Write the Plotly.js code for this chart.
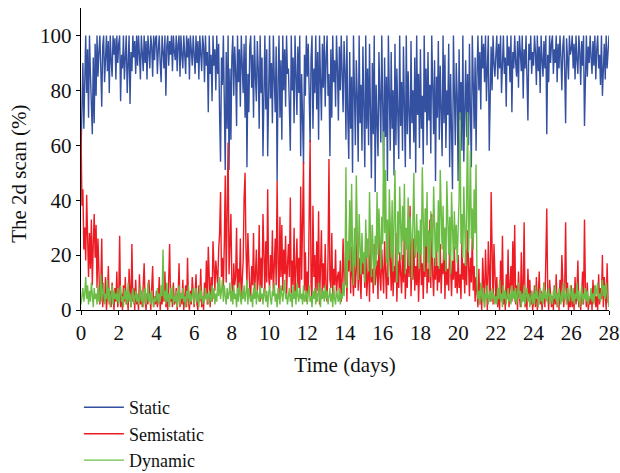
<!DOCTYPE html>
<html>
<head>
<meta charset="utf-8">
<script src="https://cdn.plot.ly/plotly-3.0.1.min.js"></script>
<style>html,body{margin:0;padding:0;background:#fff}#chart{width:620px;height:473px}</style>
</head>
<body>
<div id="chart"></div>
<script>
// sampling interval (days) of the recorded series
const sampleStepDays = 0.05;
const xTickLabels = ["0","2","4","6","8","10","12","14","16","18","20","22","24","26","28"];
const yTickLabels = ["0","20","40","60","80","100"];
const seriesNames = ["Static", "Semistatic", "Dynamic"];

// Static share (%), 20 samples per day
const staticPct = [
57,72,90,66,84,100,79,95,70,100,86,74,64,92,68,97,78,100,85,94,
100,88,74,96,100,83,92,100,87,98,79,100,91,85,100,93,99,84,100,90,
97,100,76,93,88,100,84,96,100,79,91,100,75,94,87,100,92,98,86,100,
89,100,93,84,100,95,87,100,90,98,84,100,93,88,100,96,85,100,91,99,
100,86,95,100,90,83,100,94,88,100,78,96,100,89,98,93,100,87,100,94,
91,100,87,97,100,85,100,93,88,100,95,86,100,92,99,84,100,95,89,100,
95,86,100,90,98,84,100,92,87,100,96,83,100,89,94,72,100,86,93,76,
100,89,95,80,100,86,97,71,54,92,82,100,75,51,94,66,100,51,88,62,
92,100,78,96,87,67,100,83,95,74,100,88,79,97,70,100,52,86,72,96,
100,81,93,70,100,85,76,98,88,66,100,79,92,56,84,100,73,95,56,88,
100,77,90,68,100,84,72,96,47,83,100,70,91,62,100,80,95,74,100,86,
88,74,58,100,80,92,68,100,84,71,96,79,100,56,86,64,53,93,78,100,
85,97,70,61,92,100,66,88,79,100,73,94,62,100,84,69,97,81,100,74,
92,100,78,86,56,95,70,100,83,91,74,100,88,69,96,80,100,86,72,98,
88,62,100,70,55,94,66,85,50,100,72,60,91,78,54,100,68,82,58,96,
74,52,100,66,88,60,97,71,48,90,64,100,43,82,69,56,94,75,61,100,
70,50,92,63,85,47,100,72,58,94,66,80,49,97,60,88,73,55,100,67,
83,58,96,70,52,100,64,87,74,55,98,68,80,61,92,50,100,71,86,59,
95,66,78,53,100,72,88,60,94,69,82,57,100,75,64,91,47,85,70,98,
62,89,74,56,100,68,93,59,80,71,97,52,86,65,44,100,73,60,90,78,
47,95,69,83,58,100,54,76,91,63,86,60,97,72,52,100,81,66,92,58,
86,100,80,94,73,100,88,97,83,100,76,91,100,58,87,96,80,100,90,85,
93,100,84,97,88,100,79,95,100,86,92,74,100,89,96,83,100,72,94,88,
100,90,85,98,81,100,93,87,100,77,95,88,100,84,69,97,91,100,86,94,
89,100,94,82,100,87,96,79,100,91,85,98,88,100,64,93,83,100,90,97,
100,86,95,90,100,83,97,88,100,92,80,96,100,87,68,99,91,84,100,93,
95,100,88,97,84,100,91,86,100,94,82,98,89,100,67,93,100,85,96,90,
100,92,86,98,89,100,84,95,100,88,93,82,100,78,86,97,84,100,88,95,
100];

// Semistatic share (%)
const semistaticPct = [
66,38,44,22,30,18,42,25,12,28,15,33,9,24,35,19,31,8,26,14,
2,9,26,1,6,3,12,0,5,16,2,7,1,10,4,0,8,3,14,1,
4,27,1,6,0,9,3,12,2,5,0,15,7,1,24,3,8,0,11,2,
5,0,13,2,7,1,9,17,3,0,6,2,11,4,0,8,16,1,5,2,
7,1,4,12,0,6,2,9,3,14,1,5,0,11,24,3,7,1,10,2,
3,8,0,5,17,1,6,2,11,0,4,9,1,19,3,0,7,2,12,4,
1,6,13,2,0,9,3,15,1,5,0,10,4,18,2,23,6,1,12,3,
25,11,7,18,14,9,22,28,43,12,19,8,24,49,10,33,61,13,21,35,
10,4,17,9,12,30,6,15,8,26,3,11,18,41,50,22,9,28,14,7,
5,16,9,28,4,13,22,7,11,31,3,19,8,35,14,6,25,10,44,12,
8,20,11,29,6,15,26,9,47,17,4,34,12,31,7,22,13,27,5,16,
24,12,41,6,18,9,30,4,15,26,8,19,5,45,11,33,54,7,21,3,
14,6,27,62,9,4,38,12,20,3,25,7,36,2,15,29,5,17,8,24,
6,3,19,55,11,8,28,4,15,9,22,5,12,14,7,18,3,11,26,10,
9,26,3,21,14,33,6,23,12,5,18,8,15,30,7,19,11,4,24,13,
17,8,28,5,11,20,3,31,10,15,6,24,9,13,18,4,27,12,7,22,
14,6,25,11,4,19,9,31,13,7,22,5,16,10,28,3,18,8,21,12,
6,20,10,29,4,15,8,24,12,38,5,18,11,26,7,16,9,23,3,14,
27,9,17,4,21,12,37,6,15,10,33,8,35,13,5,19,11,25,7,16,
10,24,6,17,13,29,4,21,9,15,7,26,12,5,18,11,23,8,14,6,
20,8,13,4,25,11,17,6,22,9,29,14,5,19,10,27,7,16,3,12,
4,1,15,2,9,0,19,6,1,22,11,0,25,14,3,43,16,2,24,9,
3,12,1,8,0,18,5,27,2,7,0,13,4,22,1,9,16,3,25,6,
31,2,9,0,14,5,1,21,3,8,32,1,6,0,15,4,11,2,7,0,
3,9,1,12,0,5,14,2,7,0,4,10,1,17,37,6,0,11,3,1,
5,0,9,2,13,1,6,0,11,3,20,7,1,8,32,2,10,0,4,1,
9,1,5,0,12,2,7,18,1,4,0,6,14,2,33,8,1,10,0,4,
2,7,0,11,3,9,1,5,0,13,2,8,4,20,1,12,6,0,17,3,
2];

// Dynamic share (%)
const dynamicPct = [
2,5,8,3,6,12,4,9,2,7,3,10,5,1,8,4,6,2,9,3,
5,13,3,7,10,2,6,4,11,3,8,1,5,9,2,7,4,6,3,8,
2,6,9,3,5,1,8,4,7,2,10,3,6,1,5,8,2,4,7,3,
6,2,4,9,3,7,1,5,8,2,4,10,3,6,2,7,4,1,5,3,
4,8,2,6,3,9,5,22,4,7,2,10,3,6,1,8,4,9,2,5,
3,7,1,5,9,2,6,4,8,3,5,1,7,4,9,2,6,3,5,8,
2,5,8,3,6,1,9,4,7,2,5,3,8,4,6,2,7,5,3,9,
4,8,2,6,3,10,5,12,4,7,11,3,9,5,2,8,4,6,10,3,
7,2,9,4,6,1,8,3,10,5,2,7,4,9,3,6,11,2,8,5,
3,6,1,8,4,10,2,7,5,3,9,4,6,2,8,5,3,7,1,6,
9,4,2,7,5,10,3,6,1,8,4,2,9,5,3,7,11,4,6,2,
5,8,3,6,1,9,4,7,2,10,5,3,8,4,6,2,9,3,5,7,
2,6,9,3,5,1,7,4,8,2,6,3,10,5,1,8,4,7,3,9,
4,7,2,5,8,3,6,1,9,4,2,7,5,3,8,2,6,4,10,5,
12,52,8,25,18,40,14,46,22,9,30,16,49,20,11,35,24,13,28,17,
21,10,33,19,26,14,43,23,12,31,18,9,27,16,43,20,37,25,15,34,
24,65,28,51,17,33,12,44,26,19,40,14,31,51,23,10,36,20,45,27,
18,38,25,46,13,30,22,41,16,34,28,11,39,50,24,19,35,21,29,15,
33,20,52,26,14,37,23,43,17,29,12,36,24,19,45,27,16,32,21,40,
15,51,28,22,38,18,30,14,47,25,20,34,13,43,26,18,36,22,31,17,
29,40,72,24,35,19,45,27,16,38,72,21,33,58,26,37,22,44,28,53,
9,4,7,2,10,5,3,8,1,6,4,9,2,5,7,3,8,4,6,2,
5,2,8,4,11,3,6,1,9,4,7,2,5,8,3,6,2,9,4,7,
3,8,2,5,10,4,7,1,6,3,9,2,5,8,3,6,1,4,7,2,
6,2,9,4,7,1,5,8,3,6,2,10,4,7,3,5,8,2,6,4,
2,7,4,9,3,6,1,8,5,2,7,3,10,4,6,2,8,5,3,9,
5,3,8,2,6,4,10,3,7,1,5,9,2,6,4,8,3,7,2,5,
4,8,3,6,2,9,5,7,10,4,6,3,8,11,5,9,4,10,6,2,
1];

const timeDays = staticPct.map((_, i) => i * sampleStepDays);
const FONT = "'Liberation Serif', 'DejaVu Serif', serif";

const traces = [
  {x: timeDays, y: staticPct, name: seriesNames[0], type: "scatter", mode: "lines",
   line: {color: "#3450a0", width: 1.4}},
  {x: timeDays, y: semistaticPct, name: seriesNames[1], type: "scatter", mode: "lines",
   line: {color: "#ed1c24", width: 1.4}},
  {x: timeDays, y: dynamicPct, name: seriesNames[2], type: "scatter", mode: "lines",
   line: {color: "#6cbd45", width: 1.4}}
];

const layout = {
  width: 620, height: 473,
  margin: {l: 81, r: 11, t: 8, b: 163, autoexpand: false},
  paper_bgcolor: "#fff", plot_bgcolor: "#fff",
  font: {family: FONT, size: 18, color: "#111"},
  showlegend: true,
  legend: {x: -0.004, xanchor: "left", y: -0.262, yanchor: "top",
           itemwidth: 40,
           font: {family: FONT, size: 18, color: "#111"}, bgcolor: "rgba(0,0,0,0)"},
  xaxis: {
    range: [0, 28], tickmode: "array",
    tickvals: xTickLabels.map(Number), ticktext: xTickLabels,
    showgrid: false, zeroline: false, showline: true, linecolor: "#000", linewidth: 1.2,
    ticks: "outside", ticklen: 4, tickcolor: "#000", tickwidth: 1,
    tickfont: {family: FONT, size: 21, color: "#111"},
    title: {text: "Time (days)", font: {family: FONT, size: 21, color: "#111"}, standoff: 12}
  },
  yaxis: {
    range: [0, 110], tickmode: "array",
    tickvals: yTickLabels.map(Number), ticktext: yTickLabels,
    showgrid: false, zeroline: false, showline: true, linecolor: "#000", linewidth: 1.2,
    ticks: "outside", ticklen: 4, tickcolor: "#000", tickwidth: 1,
    tickfont: {family: FONT, size: 21, color: "#111"}
  },
  annotations: [{
    text: "The 2d scan (%)", xref: "paper", yref: "paper",
    x: -0.118, y: 0.45, xanchor: "center", yanchor: "middle",
    textangle: -90, showarrow: false,
    font: {family: FONT, size: 21, color: "#111"}
  }]
};

Plotly.newPlot("chart", traces, layout, {displayModeBar: false, staticPlot: true});
</script>
</body>
</html>
